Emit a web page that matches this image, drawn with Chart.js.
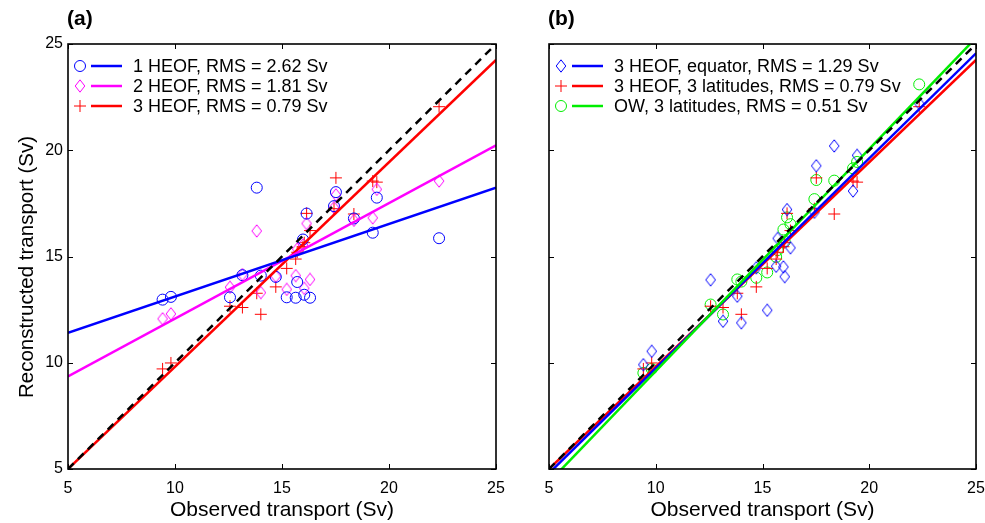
<!DOCTYPE html>
<html>
<head>
<meta charset="utf-8">
<script src="https://cdn.jsdelivr.net/npm/chart.js@4/dist/chart.umd.min.js"></script>
<style>
  body { margin: 0; background: #fff; }
  #wrap { position: relative; width: 985px; height: 523px; }
  canvas { position: absolute; top: 0; }
  #chartA { left: 0; }
  #chartB { left: 500px; }
</style>
</head>
<body>
<div id="wrap">
  <canvas id="chartA" width="520" height="523"></canvas>
  <canvas id="chartB" width="485" height="523"></canvas>
</div>
<script>
// observed transport (Sv), same for every series
const observed = [9.42, 9.81, 12.57, 13.15, 13.82, 14.01, 14.71, 15.22, 15.64, 15.71,
  15.98, 16.04, 16.15, 16.31, 17.43, 17.52, 18.36, 19.24, 19.43, 22.34];

// panel (a) reconstructions
const heof1 = [12.97, 13.10, 13.08, 14.12, 18.24, 14.10, 14.04, 13.08, 13.06, 13.80,
  15.80, 13.20, 17.02, 13.06, 17.37, 18.03, 16.79, 16.12, 17.77, 15.86];
const heof2 = [12.07, 12.30, 13.55, 14.15, 16.20, 13.30, 14.07, 13.45, 14.10, 15.35,
  15.55, 13.50, 16.55, 13.92, 17.30, 17.90, 16.70, 16.82, 18.16, 18.55];
const heof3 = [9.71, 9.99, 12.66, 12.60, 13.27, 12.28, 13.57, 14.44, 14.88, 15.20,
  15.46, 15.65, 17.03, 16.22, 17.25, 18.70, 17.00, 18.55, 18.50, 22.05];

// panel (b) reconstructions (red series is heof3 again)
const equator3 = [9.91, 10.54, 13.90, 11.95, 13.13, 11.88, 14.47, 12.47, 14.54, 15.85,
  14.51, 14.05, 17.21, 15.41, 17.08, 19.27, 20.20, 18.08, 19.76, 22.20];
const ow3 = [9.52, 9.71, 12.74, 12.27, 13.92, 13.82, 14.00, 14.25, 14.98, 15.30,
  16.27, 15.70, 16.84, 16.52, 17.70, 18.60, 18.57, 19.15, 19.45, 23.10];

// fitted lines, read at x = 5 and x = 25
const fitX = [5, 25];
const oneToOne = [5, 25];
const heof1Fit = [11.41, 18.24];
const heof2Fit = [9.36, 20.23];
const heof3Fit = [5.0, 24.25];
const equator3Fit = [4.80, 24.56];
const ow3Fit = [4.38, 25.29];

const axisTicks = [5, 10, 15, 20, 25];

const labelsA = ['1 HEOF, RMS = 2.62 Sv', '2 HEOF, RMS = 1.81 Sv', '3 HEOF, RMS = 0.79 Sv'];
const labelsB = ['3 HEOF, equator, RMS = 1.29 Sv', '3 HEOF, 3 latitudes, RMS = 0.79 Sv', 'OW, 3 latitudes, RMS = 0.51 Sv'];

const BLUE = '#0000ff', MAGENTA = '#ff00ff', RED = '#ff0000', GREEN = '#00ee00';
const FONT = "'Liberation Sans', Arial, sans-serif";

Chart.defaults.font.family = FONT;
Chart.defaults.color = '#000';

// narrow matlab-like diamond marker
function makeDiamond(color) {
  const c = document.createElement('canvas');
  c.width = 12;
  c.height = 14;
  const g = c.getContext('2d');
  g.strokeStyle = color;
  g.lineWidth = 1;
  g.beginPath();
  g.moveTo(6, 0.8);
  g.lineTo(10.8, 7);
  g.lineTo(6, 13.2);
  g.lineTo(1.2, 7);
  g.closePath();
  g.stroke();
  return c;
}

const marker = {
  circle: { style: 'circle', radius: 5.5 },
  plus: { style: 'cross', radius: 6 },
  diamondMagenta: { style: makeDiamond(MAGENTA), radius: 5 },
  diamondBlue: { style: makeDiamond(BLUE), radius: 5 }
};

function toPoints(xs, ys) {
  return xs.map((x, i) => ({ x: x, y: ys[i] }));
}

function scatterSet(label, ys, color, m) {
  return {
    label: label,
    data: toPoints(observed, ys),
    borderColor: color,
    backgroundColor: 'rgba(0,0,0,0)',
    pointStyle: m.style,
    pointRadius: m.radius,
    pointBorderWidth: 1,
    showLine: false,
    order: 5
  };
}

function lineSet(ys, color, dash) {
  return {
    data: toPoints(fitX, ys),
    borderColor: color,
    borderWidth: 2.5,
    borderDash: dash || [],
    pointRadius: 0,
    showLine: true,
    order: 1
  };
}

// box with inward ticks on all four sides
const boxPlugin = {
  id: 'frameBox',
  afterDraw(chart) {
    const ctx = chart.ctx;
    const a = chart.chartArea;
    const xs = chart.scales.x, ys = chart.scales.y;
    ctx.save();
    ctx.strokeStyle = '#000';
    ctx.lineWidth = 1;
    ctx.beginPath();
    axisTicks.forEach(v => {
      const px = Math.round(xs.getPixelForValue(v)) + 0.5;
      ctx.moveTo(px, a.bottom); ctx.lineTo(px, a.bottom - 5);
      ctx.moveTo(px, a.top); ctx.lineTo(px, a.top + 5);
      const py = Math.round(ys.getPixelForValue(v)) + 0.5;
      ctx.moveTo(a.left, py); ctx.lineTo(a.left + 5, py);
      ctx.moveTo(a.right, py); ctx.lineTo(a.right - 5, py);
    });
    ctx.stroke();
    ctx.lineWidth = 1.6;
    ctx.strokeRect(a.left, a.top, a.right - a.left, a.bottom - a.top);
    ctx.restore();
  }
};

// legend inside the top-left corner: marker, line, text
const innerLegend = {
  id: 'innerLegend',
  afterDatasetsDraw(chart, args, opts) {
    const ctx = chart.ctx;
    const a = chart.chartArea;
    ctx.save();
    opts.items.forEach((item, i) => {
      const y = a.top + 22 + i * 20;
      ctx.strokeStyle = item.color;
      ctx.fillStyle = 'rgba(0,0,0,0)';
      ctx.lineWidth = 1;
      Chart.helpers.drawPoint(ctx, { pointStyle: item.marker.style, radius: item.marker.radius, borderWidth: 1, rotation: 0 }, a.left + 12, y);
      ctx.lineWidth = 2.5;
      ctx.beginPath();
      ctx.moveTo(a.left + 23, y);
      ctx.lineTo(a.left + 54, y);
      ctx.stroke();
      ctx.fillStyle = '#000';
      ctx.font = '18px ' + FONT;
      ctx.textBaseline = 'middle';
      ctx.textAlign = 'left';
      ctx.fillText(item.text, a.left + 65, y + 1);
    });
    ctx.restore();
  }
};

// panel letter and (optionally) the rotated y title
const panelText = {
  id: 'panelText',
  afterDraw(chart, args, opts) {
    const ctx = chart.ctx;
    ctx.save();
    ctx.fillStyle = '#000';
    ctx.font = 'bold 21px ' + FONT;
    ctx.textBaseline = 'middle';
    ctx.fillText(opts.text, chart.chartArea.left - 1, 19);
    if (opts.yTitle) {
      ctx.translate(27, 267);
      ctx.rotate(-Math.PI / 2);
      ctx.font = '20.5px ' + FONT;
      ctx.textAlign = 'center';
      ctx.fillText(opts.yTitle, 0, 0);
    }
    ctx.restore();
  }
};

function makeOptions(showY, leftWidth, rightPad, title, items) {
  return {
    responsive: false,
    devicePixelRatio: 1,
    animation: false,
    events: [],
    layout: { padding: { top: 44, right: rightPad, left: 0, bottom: 0 } },
    scales: {
      x: {
        type: 'linear', min: 5, max: 25,
        grid: { display: false, drawTicks: false },
        border: { display: false },
        afterBuildTicks: s => { s.ticks = axisTicks.map(v => ({ value: v })); },
        ticks: { padding: 10, font: { size: 16 }, maxRotation: 0 },
        title: { display: true, text: 'Observed transport (Sv)', font: { size: 21 }, padding: { top: 0, bottom: 0 } },
        afterFit: s => { s.height = 54; s.paddingLeft = 0; s.paddingRight = 0; }
      },
      y: {
        type: 'linear', min: 5, max: 25,
        grid: { display: false, drawTicks: false },
        border: { display: false },
        afterBuildTicks: s => { s.ticks = axisTicks.map(v => ({ value: v })); },
        ticks: { display: showY, padding: 5, font: { size: 16 } },
        afterFit: s => { s.width = leftWidth; s.paddingTop = 0; s.paddingBottom = 0; }
      }
    },
    plugins: {
      legend: { display: false },
      tooltip: { enabled: false },
      innerLegend: { items: items },
      panelText: { text: title, yTitle: showY ? 'Reconstructed transport (Sv)' : '' }
    }
  };
}

const chartA = new Chart(document.getElementById('chartA'), {
  type: 'scatter',
  data: {
    datasets: [
      lineSet(oneToOne, '#000', [8, 6]),
      lineSet(heof1Fit, BLUE),
      lineSet(heof2Fit, MAGENTA),
      lineSet(heof3Fit, RED),
      scatterSet(labelsA[0], heof1, BLUE, marker.circle),
      scatterSet(labelsA[1], heof2, MAGENTA, marker.diamondMagenta),
      scatterSet(labelsA[2], heof3, RED, marker.plus)
    ]
  },
  options: makeOptions(true, 68, 24, '(a)', [
    { text: labelsA[0], color: BLUE, marker: marker.circle },
    { text: labelsA[1], color: MAGENTA, marker: marker.diamondMagenta },
    { text: labelsA[2], color: RED, marker: marker.plus }
  ]),
  plugins: [boxPlugin, innerLegend, panelText]
});

const chartB = new Chart(document.getElementById('chartB'), {
  type: 'scatter',
  data: {
    datasets: [
      lineSet(oneToOne, '#000', [8, 6]),
      lineSet(ow3Fit, GREEN),
      lineSet(equator3Fit, BLUE),
      lineSet(heof3Fit, RED),
      scatterSet(labelsB[0], equator3, BLUE, marker.diamondBlue),
      scatterSet(labelsB[1], heof3, RED, marker.plus),
      scatterSet(labelsB[2], ow3, GREEN, marker.circle)
    ]
  },
  options: makeOptions(false, 49, 9, '(b)', [
    { text: labelsB[0], color: BLUE, marker: marker.diamondBlue },
    { text: labelsB[1], color: RED, marker: marker.plus },
    { text: labelsB[2], color: GREEN, marker: marker.circle }
  ]),
  plugins: [boxPlugin, innerLegend, panelText]
});
</script>
</body>
</html>
